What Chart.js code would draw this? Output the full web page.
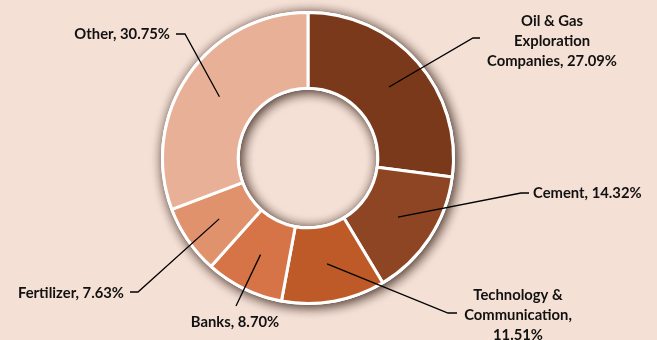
<!DOCTYPE html>
<html>
<head>
<meta charset="utf-8">
<script src="https://cdn.jsdelivr.net/npm/chart.js@4"></script>
<style>
  html, body { margin: 0; padding: 0; background: #F5E0D6; }
  #wrap { width: 657px; height: 340px; position: relative; }
</style>
</head>
<body>
<div id="wrap"><canvas id="sectorChart"></canvas></div>
<script>
// Sector weights (%)
const categories = ["Oil & Gas\nExploration\nCompanies", "Cement", "Technology &\nCommunication", "Banks", "Fertilizer", "Other"];
const shares = [27.09, 14.32, 11.51, 8.70, 7.63, 30.75];
const sliceColors = ["#7A391A", "#8E4523", "#BD5A28", "#D77447", "#E0926C", "#E8B197"];

// Label placement, relative to the doughnut centre
// text: anchor of the text block, end: where the leader meets the text, elbow: bend point
const labelLayout = [
  { align: "center", text: [244, -117], end: [172, -120], elbow: [165, -120], valueBreak: false },
  { align: "left",   text: [225, 35],   end: [221, 35],   elbow: [213, 35],   valueBreak: false },
  { align: "center", text: [210, 157],  end: [149, 155],  elbow: [140, 155],  valueBreak: true },
  { align: "center", text: [-73, 164],  end: [-72, 148],  elbow: [-72, 148],  valueBreak: false },
  { align: "right",  text: [-184, 135], end: [-178, 134], elbow: [-170, 134], valueBreak: false },
  { align: "right",  text: [-138, -124], end: [-132, -124], elbow: [-123, -124], valueBreak: false }
];

const FONT = "bold 14.8px Lato, 'Open Sans', sans-serif";
const LINE_H = 20;

// soft shadow under the whole ring (drawn twice so it reads darker)
const ringShadow = {
  id: "ringShadow",
  beforeDatasetsDraw(chart) {
    const arc = chart.getDatasetMeta(0).data[0];
    if (!arc) return;
    const { x, y, outerRadius, innerRadius } = arc.getProps(["x", "y", "outerRadius", "innerRadius"], true);
    const ctx = chart.ctx;
    ctx.save();
    ctx.shadowColor = "rgba(50, 30, 20, 0.6)";
    ctx.shadowBlur = 12;
    ctx.shadowOffsetX = 2;
    ctx.shadowOffsetY = 2;
    ctx.fillStyle = "#ffffff";
    for (let k = 0; k < 2; k++) {
      ctx.beginPath();
      ctx.arc(x, y, outerRadius + 1.5, 0, Math.PI * 2);
      ctx.arc(x, y, innerRadius - 1.5, 0, Math.PI * 2, true);
      ctx.fill("evenodd");
    }
    ctx.restore();
  }
};

// data labels with leader lines
const leaderLabels = {
  id: "leaderLabels",
  afterDatasetsDraw(chart) {
    const ctx = chart.ctx;
    const meta = chart.getDatasetMeta(0);
    meta.data.forEach((arc, i) => {
      const { x: cx, y: cy } = arc.getProps(["x", "y"], true);
      const anchor = arc.tooltipPosition(true);
      const lay = labelLayout[i];
      ctx.save();
      ctx.strokeStyle = "#000";
      ctx.lineWidth = 1.3;
      ctx.beginPath();
      ctx.moveTo(anchor.x, anchor.y);
      ctx.lineTo(cx + lay.elbow[0], cy + lay.elbow[1]);
      ctx.lineTo(cx + lay.end[0], cy + lay.end[1]);
      ctx.stroke();

      const label = categories[i] + "," + (lay.valueBreak ? "\n" : " ") + shares[i].toFixed(2) + "%";
      const lines = label.split("\n");
      ctx.font = FONT;
      ctx.fillStyle = "#111";
      ctx.textAlign = lay.align;
      ctx.textBaseline = "middle";
      const top = cy + lay.text[1] - (lines.length - 1) * LINE_H / 2;
      lines.forEach((ln, k) => ctx.fillText(ln, cx + lay.text[0], top + k * LINE_H));
      ctx.restore();
    });
  }
};

new Chart(document.getElementById("sectorChart"), {
  type: "doughnut",
  data: {
    labels: categories.map(c => c.replace(/\n/g, " ")),
    datasets: [{
      data: shares,
      backgroundColor: sliceColors,
      borderColor: "#ffffff",
      borderWidth: 3
    }]
  },
  options: {
    responsive: true,
    maintainAspectRatio: false,
    animation: false,
    cutout: "48%",
    layout: { padding: { left: 0, right: 41, top: 11, bottom: 35 } },
    plugins: {
      legend: { display: false },
      tooltip: { enabled: false }
    }
  },
  plugins: [ringShadow, leaderLabels]
});
</script>
</body>
</html>
